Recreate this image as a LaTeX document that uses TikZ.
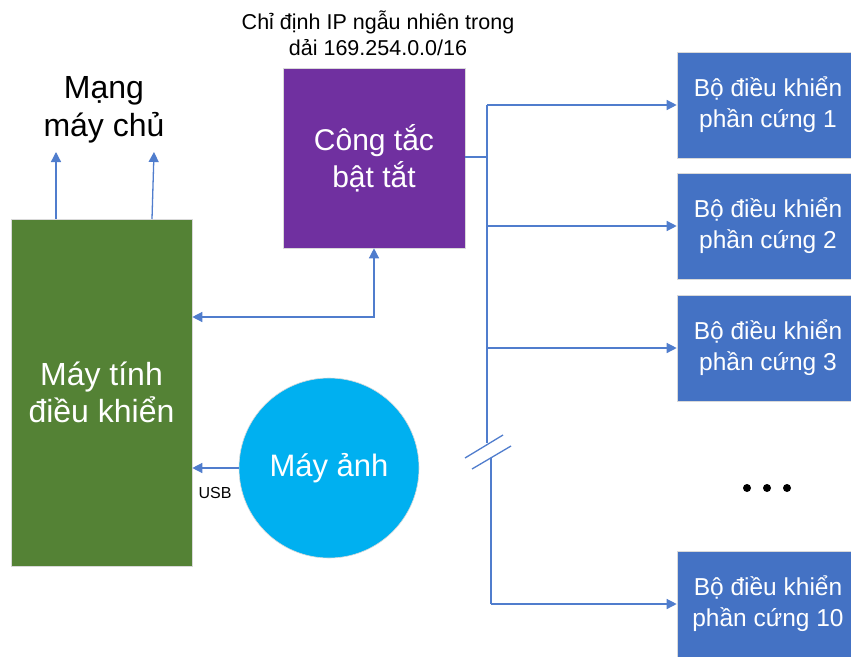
\documentclass[tikz,border=0pt]{standalone}
\usepackage{fontspec}
\setmainfont{Liberation Sans}
\usetikzlibrary{arrows.meta,calc}
\definecolor{pcgreen}{RGB}{84,130,53}
\definecolor{swpurple}{RGB}{112,48,160}
\definecolor{hwblue}{RGB}{68,114,196}
\definecolor{camblue}{RGB}{0,176,240}
\definecolor{linkblue}{RGB}{80,125,205}
\begin{document}
\begin{tikzpicture}[x=1pt,y=-1pt,
  box/.style={draw=black!15,line width=0.6pt,inner sep=0pt,text=white,align=center},
  hwbox/.style={box,fill=hwblue,minimum width=182,minimum height=106,
     font=\fontsize{24.5}{31}\selectfont},
  conn/.style={draw=linkblue,line width=1.3pt},
  tip/.style={-{Triangle[length=10pt,width=10pt]}},
  bothtip/.style={{Triangle[length=10pt,width=10pt]}-{Triangle[length=10pt,width=10pt]}}]
\clip (0,0) rectangle (851,656);
\fill[white] (0,0) rectangle (851,656);
% main nodes
\node[box,fill=pcgreen,minimum width=181,minimum height=347,
  font=\fontsize{32}{37}\selectfont] (pc) at (101.5,392.5) {Máy tính\\điều khiển};
\node[box,fill=swpurple,minimum width=182,minimum height=180,
  font=\fontsize{30}{37}\selectfont] (sw) at (374,158) {Công tắc\\bật tắt};
\node[box,fill=camblue,circle,minimum size=180,
  font=\fontsize{31}{37}\selectfont] (cam) at (329,468) {Máy ảnh};
\node[hwbox] (hw1) at (768,105) {Bộ điều khiển\\phần cứng 1};
\node[hwbox] (hw2) at (768,226) {Bộ điều khiển\\phần cứng 2};
\node[hwbox] (hw3) at (768,348) {Bộ điều khiển\\phần cứng 3};
\node[hwbox] (hw10) at (768,604) {Bộ điều khiển\\phần cứng 10};
% labels
\node[align=center,font=\fontsize{32}{38}\selectfont,inner sep=0pt] (net) at (104,110) {Mạng\\máy chủ};
\node[align=center,font=\fontsize{21.5}{26}\selectfont,inner sep=0pt] (iplbl) at (378,33) {Chỉ định IP ngẫu nhiên trong\\dải 169.254.0.0/16};
\node[font=\fontsize{16}{18}\selectfont,inner sep=0pt,anchor=base] (usb) at (215,498) {USB};
% dots
\foreach \i/\x in {1/747,2/767,3/787}
  \node[circle,fill=black,inner sep=0pt,minimum size=8] (dot\i) at (\x,488) {};
% coordinates
\coordinate (up1) at (56,152);
\coordinate (up2) at (154,152);
\coordinate (k) at (374,317);
\coordinate (j) at (487,157);
\coordinate (jt) at (487,105);
\coordinate (jb) at (487,443);
\coordinate (lj) at (491,458);
\coordinate (s1a) at (465,458);
\coordinate (s1b) at (503,435);
\coordinate (s2a) at (472,469);
\coordinate (s2b) at (511,446);
% connectors
\draw[conn,tip] (pc.north west -| up1) -- (up1);
\draw[conn,tip] (152,219) -- (up2);
\draw[conn,bothtip] (pc.east |- k) -| (sw.south);
\draw[conn,tip] (cam.west) -- (pc.east |- cam.west);
\draw[conn] (sw.east |- j) -- (j);
\draw[conn] (jt) -- (jb);
\draw[conn,tip] (jt) -- (hw1.west);
\draw[conn,tip] (jt |- hw2.west) -- (hw2.west);
\draw[conn,tip] (jt |- hw3.west) -- (hw3.west);
\draw[conn] (lj) -- (lj |- hw10.west);
\draw[conn,tip] (lj |- hw10.west) -- (hw10.west);
\draw[conn] (s1a) -- (s1b);
\draw[conn] (s2a) -- (s2b);
\end{tikzpicture}
\end{document}
